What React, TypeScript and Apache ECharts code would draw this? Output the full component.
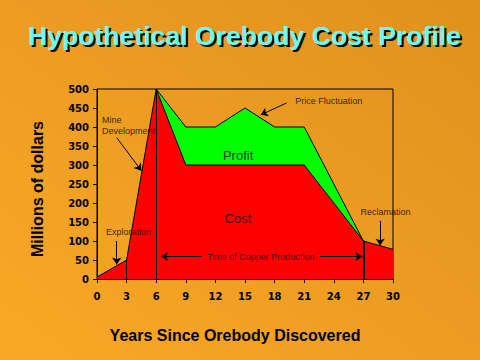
import React, { useEffect, useRef } from "react";
import * as echarts from "echarts";

const titleText = "Hypothetical Orebody Cost Profile";
const xAxisTitle = "Years Since Orebody Discovered";
const yAxisTitle = "Millions of dollars";

// Cost curve (years, millions of dollars)
const costYears = [0, 3, 6, 9, 21, 27, 30];
const costValues = [5, 50, 500, 300, 300, 100, 78];

// Revenue curve (top of profit)
const revenueYears = [6, 9, 12, 15, 18, 21, 27];
const revenueValues = [500, 400, 400, 450, 400, 400, 100];

// Milestone vertical lines (year, height)
const milestoneYears = [3, 6, 27];
const milestoneValues = [50, 500, 100];

// Annotation labels
const annotationTexts = [
  "Mine\nDevelopment",
  "Exploration",
  "Price Fluctuation",
  "Profit",
  "Cost",
  "Time of Copper Production",
  "Reclamation",
];
const annotationX = [0.5, 0.9, 20.1, 14.3, 14.3, 16.6, 26.7];
const annotationY = [403, 124, 469, 326, 158, 59, 177];

// Annotation arrows: from (x1,y1) to (x2,y2)
const arrowFromX = [2.0, 2.0, 19.2, 10.6, 22.6, 28.7];
const arrowFromY = [372, 100, 463, 59, 59, 153];
const arrowToX = [4.5, 2.0, 16.6, 6.5, 26.9, 28.7];
const arrowToY = [285, 38, 432, 59, 59, 88];

export default function App() {
  const ref = useRef<HTMLDivElement>(null);

  useEffect(() => {
    if (!ref.current) return;
    const chart = echarts.init(ref.current, undefined, { renderer: "svg" });
    const font = "'Liberation Sans', Arial, sans-serif";
    const titleSize = 26.6;

    const annotationData = annotationTexts.map((t, i) => {
      const big = t === "Profit" || t === "Cost";
      const centered = big || t.startsWith("Time");
      return {
        value: [annotationX[i], annotationY[i]],
        label: {
          show: true,
          position: "inside",
          formatter: t,
          align: centered ? "center" : "left",
          verticalAlign: "middle",
          fontSize: big ? 13 : 9,
          lineHeight: big ? 15 : 11,
          color: "#000",
          fontFamily: font,
        },
      };
    });

    const arrowData = arrowFromX.map((x, i) => [
      { coord: [x, arrowFromY[i]] },
      { coord: [arrowToX[i], arrowToY[i]] },
    ]);

    const milestoneData = milestoneYears.map((x, i) => [
      { coord: [x, 0], lineStyle: { width: x === 27 ? 2 : 1 } },
      { coord: [x, milestoneValues[i]] },
    ]);

    chart.setOption({
      animation: false,
      backgroundColor: {
        type: "linear",
        x: 0,
        y: 1,
        x2: 1,
        y2: 0,
        colorStops: [
          { offset: 0, color: "#f9a826" },
          { offset: 1, color: "#e0911e" },
        ],
      },
      title: {
        text: titleText,
        left: 28,
        top: 22,
        padding: 0,
        z: 10,
        textStyle: {
          fontFamily: font,
          fontSize: titleSize,
          fontWeight: "bold",
          color: "#66ffff",
        },
      },
      graphic: [
        {
          type: "text",
          left: 30,
          top: 24,
          z: 1,
          silent: true,
          style: {
            text: titleText,
            fill: "#000",
            font: `bold ${titleSize}px ${font}`,
          },
        },
      ],
      grid: {
        left: 97,
        right: 87,
        top: 89,
        bottom: 81,
        show: true,
        borderColor: "#000",
        borderWidth: 1,
        backgroundColor: "transparent",
      },
      xAxis: {
        type: "value",
        min: 0,
        max: 30,
        interval: 3,
        name: xAxisTitle,
        nameLocation: "middle",
        nameGap: 48,
        nameTextStyle: {
          fontFamily: font,
          fontSize: 16,
          fontWeight: "bold",
          color: "#000",
          padding: [0, 20, 0, 0],
        },
        axisLine: { show: true, lineStyle: { color: "#000", width: 1 } },
        axisTick: { show: true, length: 4, lineStyle: { color: "#000" } },
        axisLabel: {
          fontFamily: "'DejaVu Sans', sans-serif",
          fontSize: 10,
          fontWeight: "bold",
          color: "#000",
          margin: 12,
        },
        splitLine: { show: false },
      },
      yAxis: {
        type: "value",
        min: 0,
        max: 500,
        interval: 50,
        name: yAxisTitle,
        nameLocation: "middle",
        nameGap: 52,
        nameTextStyle: {
          fontFamily: font,
          fontSize: 16,
          fontWeight: "bold",
          color: "#000",
          padding: [0, 10, 0, 0],
        },
        axisLine: { show: true, lineStyle: { color: "#000", width: 1 } },
        axisTick: { show: true, length: 4, lineStyle: { color: "#000" } },
        axisLabel: {
          fontFamily: "'DejaVu Sans', sans-serif",
          fontSize: 10,
          fontWeight: "bold",
          color: "#000",
          margin: 8,
        },
        splitLine: { show: false },
      },
      series: [
        {
          name: "Revenue",
          type: "line",
          data: revenueYears.map((x, i) => [x, revenueValues[i]]),
          symbol: "none",
          lineStyle: { color: "#000", width: 1 },
          areaStyle: { color: "#00ff00", opacity: 1 },
          z: 2,
        },
        {
          name: "Cost",
          type: "line",
          data: costYears.map((x, i) => [x, costValues[i]]),
          symbol: "none",
          lineStyle: { color: "#000", width: 1 },
          areaStyle: { color: "#ff0000", opacity: 1 },
          z: 3,
          markLine: {
            silent: true,
            symbol: "none",
            label: { show: false },
            lineStyle: { color: "#000", type: "solid", width: 1 },
            data: milestoneData,
          },
        },
        {
          name: "Annotations",
          type: "scatter",
          symbolSize: 0,
          data: annotationData,
          z: 5,
          markLine: {
            silent: true,
            symbol: ["none", "arrow"],
            symbolSize: 7,
            label: { show: false },
            lineStyle: { color: "#000", type: "solid", width: 1 },
            data: arrowData,
          },
        },
      ],
    });

    return () => chart.dispose();
  }, []);

  return (
    <div
      ref={ref}
      style={{ position: "fixed", left: 0, top: 0, width: 480, height: 360 }}
    />
  );
}
